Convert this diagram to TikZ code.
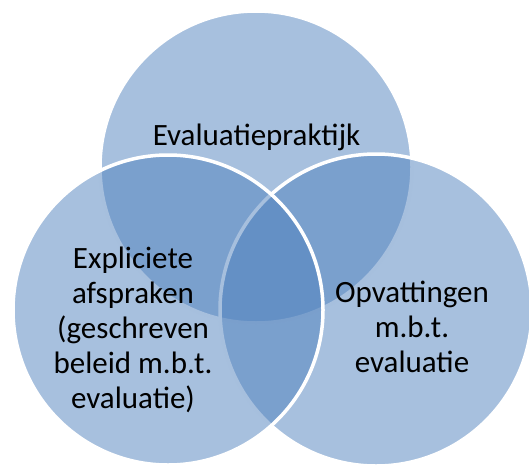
\documentclass[tikz,border=0pt]{standalone}
\usepackage{fontspec}
\setmainfont{Carlito}
\definecolor{accentblue}{HTML}{4F81BD}
\begin{document}
\begin{tikzpicture}[x=1pt,y=-1pt,
  setcircle/.style={circle, inner sep=0pt, outer sep=0pt, minimum size=#1,
    fill=accentblue, fill opacity=0.5, draw=white, draw opacity=1, line width=3.5pt},
  settext/.style={align=center, text=black, font=\fontsize{31}{35}\selectfont, inner sep=0pt}]
  \useasboundingbox (0,0) rectangle (529,468);
  % the three overlapping sets, back to front
  \node[setcircle=312pt] (ctop) at (256,167) {};
  \node[setcircle=312pt] (cright) at (376,310) {};
  \node[setcircle=310pt] (cleft) at (168,310) {};
  % labels
  \node[settext] (ltop) at (256.5,137) {Evaluatiepraktijk};
  \node[settext] (lleft) at (133,330) {Expliciete\\afspraken\\(geschreven\\beleid m.b.t.\\evaluatie)};
  \node[settext] (lright) at (412,327) {Opvattingen\\m.b.t.\\evaluatie};
\end{tikzpicture}
\end{document}
